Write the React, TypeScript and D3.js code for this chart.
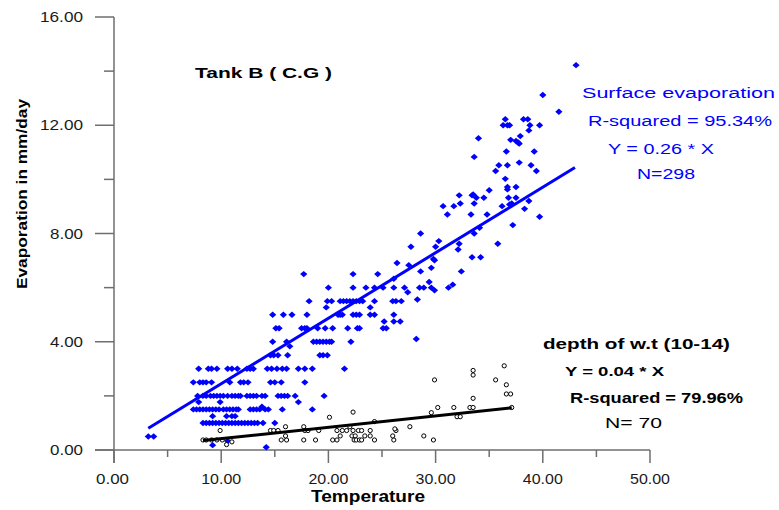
import React from 'react';
import * as d3 from 'd3';

const W = 779;
const H = 510;

const xMajor = [0, 10, 20, 30, 40, 50];
const xMinor = [5, 15, 25, 35, 45];
const yMajor = [0, 4, 8, 12, 16];
const yMinor = [2, 6, 10, 14];

// Surface evaporation (temperature, evaporation)
const surfaceLow: [number, number][] = [
  [3.2, 0.5], [3.7, 0.5], [9.2, 0.18], [10.6, 0.33], [14.2, 0.1],
  ...[7.9, 8.8, 9.1, 9.6, 10.6, 11.0, 11.5, 12.4, 12.7, 13.0, 14.3, 14.7, 15.2, 15.7, 16.1, 17.2, 17.8, 18.5, 21.5].map((t) => [t, 3.0] as [number, number]),
  ...[7.4, 8.0, 8.3, 8.6, 9.1, 10.8, 11.8, 12.1, 12.5, 14.6, 15.0, 15.6, 17.8].map((t) => [t, 2.5] as [number, number]),
  ...[7.8, 8.3, 8.6, 9.0, 9.3, 9.6, 9.9, 10.2, 10.6, 11.0, 11.3, 11.6, 11.8, 12.4, 12.7, 13.0, 13.3, 13.8, 14.1, 15.3, 15.6, 15.9, 16.2, 16.9, 19.6].map((t) => [t, 2.0] as [number, number]),
  [7.9, 1.77], [9.9, 1.77], [17.2, 1.77], [13.8, 1.6],
  ...[7.4, 7.7, 8.0, 8.3, 8.6, 8.9, 9.2, 9.5, 9.8, 10.2, 10.5, 10.8, 11.1, 11.4, 11.6, 12.7, 13.0, 13.3, 13.6, 14.1, 14.4, 15.7, 18.5].map((t) => [t, 1.5] as [number, number]),
  ...[9.2, 10.5, 11.0, 11.3].map((t) => [t, 1.25] as [number, number]),
  ...[8.3, 8.6, 8.9, 9.2, 9.5, 9.8, 10.1, 10.4, 10.7, 11.0, 11.3, 11.6, 11.9, 12.2, 12.5, 12.8, 13.1, 13.4, 13.9, 15.0].map((t) => [t, 1.0] as [number, number]),
];

const surfaceMid: [number, number][] = [
  ...[14.6, 14.9, 15.3, 16.2, 19.2, 19.5, 19.9].map((t) => [t, 3.5] as [number, number]),
  [16.4, 3.83], [28.2, 4.1],
  ...[14.8, 16.1, 18.6, 18.9, 19.2, 19.5, 19.8, 20.1, 20.3, 22.1].map((t) => [t, 4.0] as [number, number]),
  ...[15.1, 15.4, 17.5, 17.8, 18.0, 19.0, 19.7, 20.4, 21.8, 22.7, 22.9, 25.1, 25.4].map((t) => [t, 4.5] as [number, number]),
  ...[25.2, 26.1, 26.7].map((t) => [t, 4.75] as [number, number]),
  ...[14.8, 15.8, 16.6, 18.0, 20.9, 21.1, 21.3, 22.3, 22.6, 22.9, 23.9, 24.3, 26.1].map((t) => [t, 5.0] as [number, number]),
  [19.8, 5.27], [23.9, 5.27], [28.3, 5.56],
  ...[18.2, 19.9, 20.3, 21.1, 21.4, 21.7, 22.0, 22.3, 22.6, 22.9, 23.2, 24.3, 26.0, 26.3, 26.8].map((t) => [t, 5.5] as [number, number]),
  ...[20.0, 22.3, 23.5, 24.3, 25.1, 26.1, 27.1, 28.5, 28.9, 29.6, 31.2].map((t) => [t, 6.0] as [number, number]),
  [26.1, 6.33], [27.4, 5.83], [29.9, 5.9], [31.6, 6.11], [29.4, 6.21],
  ...[17.7, 22.3, 24.6].map((t) => [t, 6.5] as [number, number]),
  [28.6, 6.6], [32.4, 6.6], [29.6, 6.73], [27.5, 6.83], [26.4, 6.91], [29.9, 7.01],
];

const surfaceHigh: [number, number][] = [
  [43.1, 14.22], [40.0, 13.12], [41.5, 12.5], [36.5, 12.22], [38.2, 12.22], [38.6, 12.22],
  [36.3, 12.0], [36.7, 12.0], [36.9, 12.0], [38.8, 12.0], [39.7, 12.0], [38.7, 11.81],
  [34.0, 11.52], [37.9, 11.6], [37.0, 11.46], [37.5, 11.42], [37.7, 11.36], [37.8, 11.32],
  [33.6, 10.83], [36.6, 11.03], [39.2, 11.03], [37.8, 10.62], [35.9, 10.52], [36.7, 10.52],
  [38.9, 10.52], [35.6, 10.31], [39.4, 10.31], [36.5, 10.02], [36.7, 9.72], [36.7, 9.63],
  [37.5, 9.72], [35.0, 9.6], [32.2, 9.41], [33.5, 9.44], [33.4, 9.41], [33.8, 9.32],
  [34.5, 9.32], [36.8, 9.32], [37.5, 9.32], [38.7, 9.2], [32.3, 9.11], [33.6, 9.11],
  [30.7, 9.01], [31.7, 9.01], [36.2, 9.01], [36.9, 9.07], [37.1, 9.11], [38.3, 8.91],
  [31.1, 8.7], [33.3, 8.7], [34.8, 8.7], [39.7, 8.62], [37.2, 8.31], [28.6, 8.0],
  [33.6, 8.0], [34.1, 8.21], [30.3, 7.72], [32.2, 7.62], [35.8, 7.62], [27.7, 7.51],
  [30.0, 7.51], [32.1, 7.41], [33.4, 7.12], [34.2, 7.12], [29.8, 7.06],
];

// depth of w.t (10-14)
const depthPoints: [number, number][] = [
  [8.3, 0.37], [8.6, 0.37], [9.1, 0.37], [9.6, 0.37], [10.1, 0.37], [10.5, 0.2], [11.0, 0.3], [9.9, 0.72],
  [14.6, 0.72], [14.9, 0.72], [15.3, 0.72], [16.0, 0.86], [15.6, 0.37], [16.1, 0.37], [16.0, 0.52],
  [17.7, 0.86], [17.8, 0.72], [18.1, 0.72], [17.7, 0.37], [18.8, 0.37], [19.1, 0.72], [20.1, 1.21],
  [20.8, 0.72], [21.3, 0.72], [21.7, 0.72], [20.4, 0.37], [20.8, 0.37], [21.1, 0.52], [22.0, 0.86], [22.3, 1.4],
  [22.3, 0.72], [22.8, 0.72], [23.1, 0.72], [22.2, 0.52], [22.5, 0.52], [22.4, 0.37], [22.6, 0.37], [22.9, 0.37],
  [23.1, 0.37], [23.4, 0.52], [23.9, 0.52], [23.9, 0.72], [24.3, 0.37], [24.3, 1.05], [26.1, 0.37], [26.0, 0.52],
  [26.3, 0.72], [26.2, 0.78], [27.6, 0.86], [28.9, 0.52], [29.8, 0.37], [29.9, 2.59], [29.6, 1.38], [30.2, 1.57],
  [31.7, 1.57], [32.0, 1.23], [32.3, 1.23], [33.2, 1.57], [33.5, 1.57], [33.5, 1.91], [33.5, 2.94], [33.5, 2.77],
  [35.6, 2.59], [36.4, 3.11], [36.6, 2.41], [36.6, 2.07], [37.0, 2.07], [37.1, 1.57],
];

const surfaceFit = { slope: 0.242, intercept: 0.03, from: 3.2, to: 43.0 };
const depthFit = { slope: 0.042, intercept: 0, from: 8.3, to: 37.1 };

const surfaceLabels = ['Surface evaporation', 'R-squared = 95.34%', 'Y = 0.26 * X', 'N=298'];
const depthLabels = ['depth of w.t (10-14)', 'Y = 0.04 * X', 'R-squared = 79.96%', 'N= 70'];
const title = 'Tank B ( C.G )';
const xTitle = 'Temperature';
const yTitle = 'Evaporation in mm/day';

const FONT = "'Liberation Sans', Arial, sans-serif";
const BLUE = '#0000ff';
const AXIS = '#6e6e6e';

export default function App() {
  const x = d3.scaleLinear().domain([0, 50]).range([114, 650]);
  const y = d3.scaleLinear().domain([0, 16]).range([450, 17]);
  const fmt = d3.format('.2f');
  const surface = [...surfaceLow, ...surfaceMid, ...surfaceHigh];

  const line = d3
    .line<number>()
    .x((t) => x(t))
    .y((t) => y(0));

  const fitPath = (f: typeof surfaceFit) =>
    d3
      .line<number>()
      .x((t) => x(t))
      .y((t) => y(f.slope * t + f.intercept))([f.from, f.to]) || '';

  void line;
  const diamond = 'M0,-3.2L3.6,0L0,3.2L-3.6,0Z';
  const x0 = x(0);
  const y0 = y(0);

  return (
    <svg
      width={W}
      height={H}
      style={{ position: 'absolute', left: 0, top: 0, background: '#fff' }}
      fontFamily={FONT}
    >
      <rect width={W} height={H} fill="#fff" />
      {/* axes */}
      <g stroke={AXIS} strokeWidth={1.5} fill="none">
        <line x1={x0} x2={x0} y1={y(16)} y2={y0 + 13} />
        <line x1={x0 - 19} x2={x(50)} y1={y0} y2={y0} />
        {yMajor.map((v) => (
          <line key={'ym' + v} x1={x0 - 19} x2={x0} y1={y(v)} y2={y(v)} />
        ))}
        {yMinor.map((v) => (
          <line key={'yn' + v} x1={x0 - 10} x2={x0} y1={y(v)} y2={y(v)} />
        ))}
        {xMajor.map((v) => (
          <line key={'xm' + v} x1={x(v)} x2={x(v)} y1={y0} y2={y0 + 13} />
        ))}
        {xMinor.map((v) => (
          <line key={'xn' + v} x1={x(v)} x2={x(v)} y1={y0} y2={y0 + 7} />
        ))}
      </g>
      <g fill="#1a1a1a" fontSize={14}>
        {yMajor.map((v) => {
          const s = fmt(v);
          return (
            <text key={'yl' + v} x={83} y={y(v) + 5} textAnchor="end" textLength={s.length === 4 ? 33 : 43} lengthAdjust="spacingAndGlyphs">
              {s}
            </text>
          );
        })}
        {xMajor.map((v) => {
          const s = fmt(v);
          return (
            <text key={'xl' + v} x={x(v) - (s.length === 4 ? 1.5 : 0)} y={484} textAnchor="middle" textLength={s.length === 4 ? 33 : 40} lengthAdjust="spacingAndGlyphs">
              {s}
            </text>
          );
        })}
      </g>
      <text x={368} y={502} textAnchor="middle" fontWeight="bold" fontSize={16} textLength={114} lengthAdjust="spacingAndGlyphs" fill="#000">
        {xTitle}
      </text>
      <text transform="translate(27,194) rotate(-90)" textAnchor="middle" fontWeight="bold" fontSize={15} textLength={190} lengthAdjust="spacingAndGlyphs" fill="#000">
        {yTitle}
      </text>
      <text x={195} y={78} fontWeight="bold" fontSize={14} textLength={137} lengthAdjust="spacingAndGlyphs" fill="#000">
        {title}
      </text>

      {/* surface points */}
      <g fill={BLUE}>
        {surface.map((d, i) => (
          <path key={'s' + i} d={diamond} transform={`translate(${x(d[0])},${y(d[1])})`} />
        ))}
      </g>
      <path d={fitPath(surfaceFit)} stroke={BLUE} strokeWidth={3} fill="none" />

      {/* depth points */}
      <g fill="#fff" stroke="#000" strokeWidth={1}>
        {depthPoints.map((d, i) => (
          <circle key={'d' + i} cx={x(d[0])} cy={y(d[1])} r={2.1} />
        ))}
      </g>
      <path d={fitPath(depthFit)} stroke="#000" strokeWidth={3} fill="none" />

      {/* surface annotation */}
      <g fill={BLUE} fontSize={14}>
        <text x={582} y={98} textLength={193} lengthAdjust="spacingAndGlyphs">{surfaceLabels[0]}</text>
        <text x={588} y={126} textLength={184} lengthAdjust="spacingAndGlyphs">{surfaceLabels[1]}</text>
        <text x={608} y={154} textLength={106} lengthAdjust="spacingAndGlyphs">{surfaceLabels[2]}</text>
        <text x={637} y={179} textLength={58} lengthAdjust="spacingAndGlyphs">{surfaceLabels[3]}</text>
      </g>
      {/* depth annotation */}
      <g fill="#000">
        <text x={543} y={349} fontWeight="bold" fontSize={15} textLength={187} lengthAdjust="spacingAndGlyphs">{depthLabels[0]}</text>
        <text x={565} y={376} fontWeight="bold" fontSize={12} textLength={99} lengthAdjust="spacingAndGlyphs">{depthLabels[1]}</text>
        <text x={570} y={403} fontWeight="bold" fontSize={14} textLength={173} lengthAdjust="spacingAndGlyphs">{depthLabels[2]}</text>
        <text x={605} y={428} fontSize={15} textLength={57} lengthAdjust="spacingAndGlyphs">{depthLabels[3]}</text>
      </g>
    </svg>
  );
}
